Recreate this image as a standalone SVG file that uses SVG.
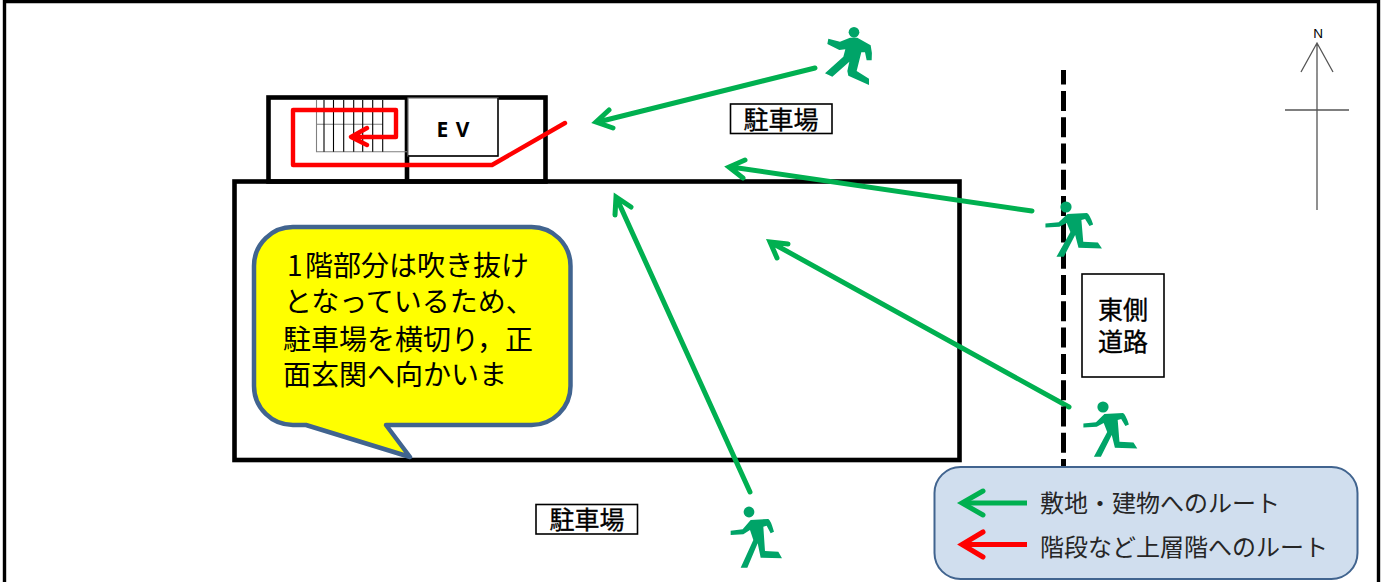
<svg xmlns="http://www.w3.org/2000/svg" width="1387" height="582" viewBox="0 0 1387 582">
<style>
.b{fill:none;stroke:#000;stroke-width:4.6}
.g{fill:none;stroke:#00b050;stroke-width:5;stroke-linecap:round;stroke-linejoin:miter}
.r{fill:none;stroke:#f00;stroke-width:4.4;stroke-linejoin:round;stroke-linecap:round}
.t{font-family:"Noto Sans CJK JP","Noto Sans",sans-serif;fill:#000}
.l{font-size:24px;fill:#262626}
.c{font-size:28px}
.p{font-size:25px;text-anchor:middle;stroke:#000;stroke-width:.35}
.run{fill:#00a468}
.st{stroke:#000;stroke-width:1.1;fill:none}
.st2{stroke:#808080;stroke-width:1.1;fill:none}
.n{stroke:#555;stroke-width:1.3;fill:none}
.box{fill:#fff;stroke:#000;stroke-width:1.6}
</style>
<defs>
<path id="runner" d="M32,152 L68,148 L92,120 L145,117 Q152,120 162,155 L152,160 L140,137 L130,140 L135,213 L175,215 L186,235 L122,233 L113,190 L82,263 L62,263 L100,180 L90,150 L70,163 L32,165 Z"/>
</defs>

<g id="frame"><path d="M4.500,582 V1.500 H1378.500 V582" fill="none" stroke="#000" stroke-width="3.400"/></g>

<g id="building">
<rect class="b" x="268.500" y="97.500" width="277" height="84"/>
<path class="b" d="M407,97 V181"/>
<rect class="b" x="234.500" y="181.500" width="725" height="278.500"/>
</g>

<g id="stairs">
<path class="st2" d="M316.500,100 V151.700 H407 M316.500,124.300 H383"/>
<path class="st" d="M324,100 V151.700 M333.500,100 V151.700 M343.700,100 V151.700 M353.700,100 V151.700 M362.700,100 V151.700 M372.700,100 V151.700 M382.700,100 V151.700"/>
</g>

<g id="ev">
<rect x="408" y="98" width="90" height="58" fill="#fff" stroke="#777" stroke-width="1.200"/>
<path d="M498,98 V156 H408" fill="none" stroke="#000" stroke-width="1.400"/>
<text x="453.500" y="136.500" text-anchor="middle" font-family="'Noto Sans',sans-serif" font-weight="700" font-size="21" letter-spacing="1">E V</text>
</g>

<g id="connectors">
<path class="r" d="M565,123 L492,165 L293,165 V110 H396 V137 H352 M367,128 L351,137 L367,145"/>
<path class="g" d="M815,68 L598,122 M609,110 L596,122 L613,128"/>
<path class="g" d="M1032,211 L731,167 M745,160 L729,167 L743,178"/>
<path class="g" d="M1069,407 L772,243 M788,244 L770,242 L777,258"/>
<path class="g" d="M750,492 L617,199 M631,207 L616,197 L615,215"/>
</g>

<g id="road-line"><path d="M1063.500,70 V466" fill="none" stroke="#000" stroke-width="5" stroke-dasharray="20 6.300" stroke-dashoffset="5.400"/></g>

<g id="callout">
<path d="M294,227 H531 A39,39 0 0 1 570.500,266 V386 A39,39 0 0 1 531,425 H386 L410,457 L306,425 H294 A39,39 0 0 1 254,386 V266 A39,39 0 0 1 294,227 Z" fill="#ff0" stroke="#41648f" stroke-width="4.500" stroke-linejoin="round"/>
<text class="t c"><tspan x="287" y="276">1</tspan><tspan x="305" y="276">階部分は吹き抜け</tspan><tspan x="284" y="312">となっているため、</tspan><tspan x="283" y="350">駐車場を横切り，正</tspan><tspan x="283" y="385">面玄関へ向かいま</tspan></text>
</g>

<g id="parking-north">
<rect class="box" x="730.500" y="104" width="101.500" height="29.500"/>
<text class="t p" x="781" y="129">駐車場</text>
</g>
<g id="parking-south">
<rect class="box" x="536" y="504.500" width="101.500" height="29.500"/>
<text class="t p" x="587" y="529">駐車場</text>
</g>

<g id="road-label">
<rect class="box" x="1082" y="274" width="82" height="103"/>
<text class="t p"><tspan x="1123" y="319">東側</tspan><tspan x="1123" y="351">道路</tspan></text>
</g>

<g id="north">
<path class="n" d="M1317,43 V210 M1301,72 L1317,43 L1333,72 M1285,110 H1349"/>
<text x="1318" y="38" text-anchor="middle" font-family="'Liberation Sans',sans-serif" font-size="13.500">N</text>
</g>

<g id="runner-1" class="run">
<g transform="translate(800 10) scale(.3333)">
<circle cx="162" cy="67" r="16"/>
<path d="M85,86 L120,95 L150,83 L172,83 L212,106 Q218,130 215,151 L200,151 L195,127 L184,127 L170,183 L207,206 L207,225 L145,197 L142,183 L148,155 L97,200 L75,190 L130,140 L136,118 L118,120 L82,102 Z"/>
</g>
</g>
<g id="runner-2" class="run">
<circle cx="1066" cy="207" r="5.600"/>
<use href="#runner" transform="translate(1033.700 177.900) scale(.367 .3)"/>
</g>
<g id="runner-3" class="run">
<circle cx="1103" cy="407" r="5.600"/>
<use href="#runner" transform="translate(1072.200 377.900) scale(.35 .3)"/>
</g>
<g id="runner-4" class="run">
<circle cx="749" cy="512" r="5.400"/>
<use href="#runner" transform="translate(720 480) scale(.3333)"/>
</g>

<g id="legend">
<rect x="934.500" y="467" width="423" height="112" rx="26" fill="#d0deee" stroke="#41648f" stroke-width="2"/>
<path d="M1027,503 H965" fill="none" stroke="#00b050" stroke-width="5"/>
<path d="M983,491 L962,503 L983,515" fill="none" stroke="#00b050" stroke-width="5" stroke-linecap="round"/>
<path d="M1027,544.500 H965" fill="none" stroke="#f00" stroke-width="5"/>
<path d="M983,532 L962,544.500 L983,557" fill="none" stroke="#f00" stroke-width="5" stroke-linecap="round"/>
<text class="t l" x="1040" y="512">敷地・建物へのルート</text>
<text class="t l" x="1040" y="556">階段など上層階へのルート</text>
</g>
</svg>
